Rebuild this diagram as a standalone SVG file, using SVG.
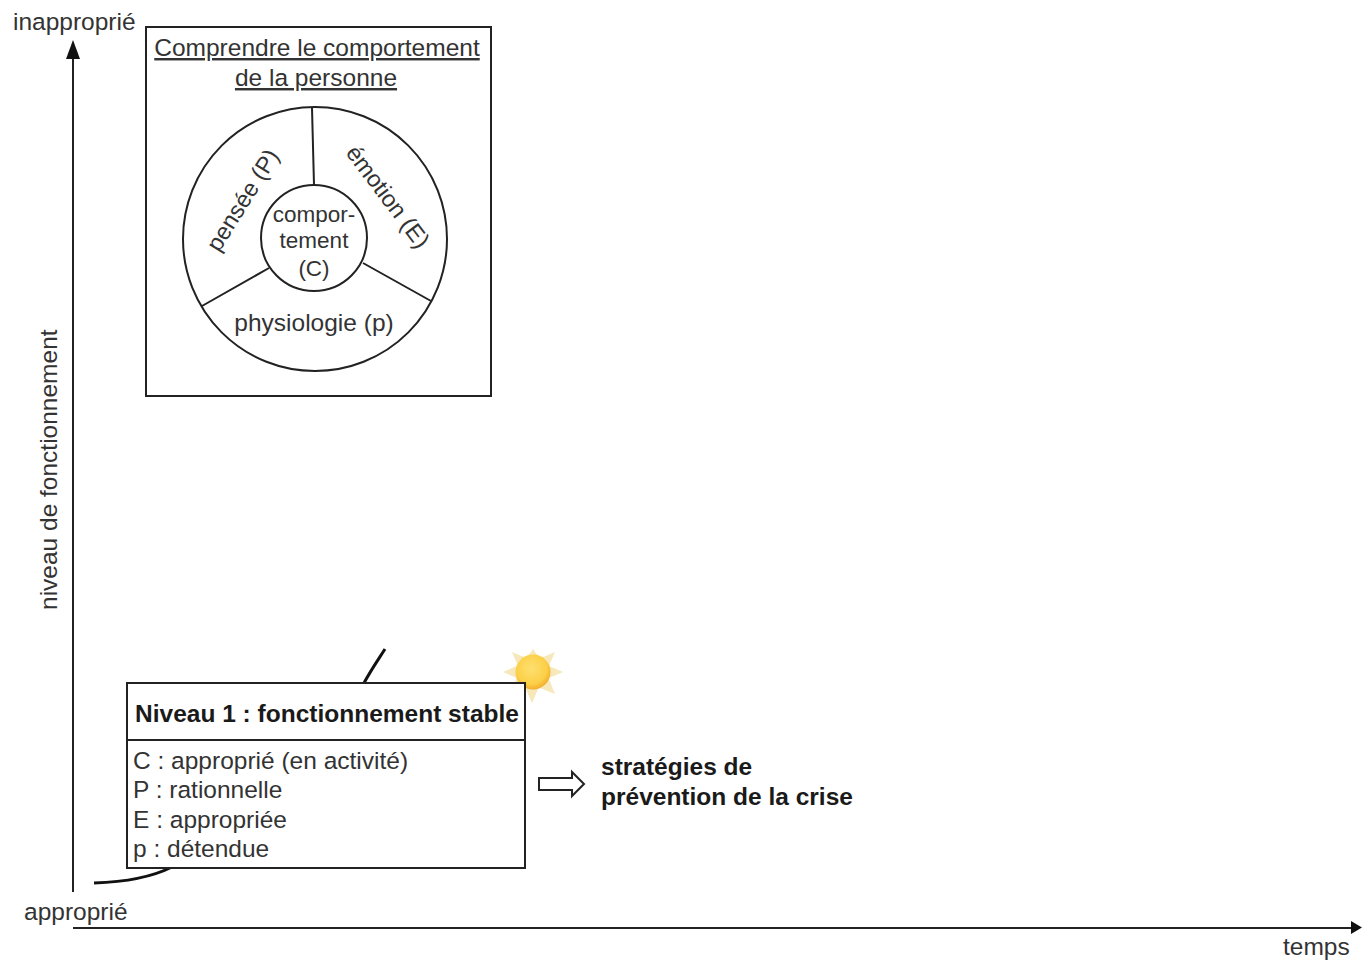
<svg xmlns="http://www.w3.org/2000/svg" width="1362" height="960" viewBox="0 0 1362 960">
<defs>
<radialGradient id="sunFill" cx="0.45" cy="0.4" r="0.62">
<stop offset="0" stop-color="#fde070"/><stop offset="0.7" stop-color="#fcd048"/><stop offset="1" stop-color="#f2ab2a"/>
</radialGradient>
</defs>
<style>
text{font-family:"Liberation Sans",Arial,sans-serif;fill:#333;font-size:24.5px}
.s{fill:none;stroke:#222;stroke-width:2}
.c{fill:none;stroke:#111;stroke-width:3}
.b{font-weight:bold;fill:#1a1a1a}
.m{font-size:22.5px}
.r{font-size:23.5px}
.ray{fill:#f6e8ba}
</style>
<rect width="1362" height="960" fill="#fff"/>
<g id="sun">
<g class="ray">
<path d="M533 649l-7 10h14zM532 703l-7-16h14zM503 672l14-6v12zM563 672l-14-6v12zM512 652l14 6-8 8zM555 652l-14 6 8 8zM555 694l-6-15-9 9zM511 692l6-15 9 9z"/>
</g>
<circle cx="533" cy="672" r="17.500" fill="url(#sunFill)"/>
</g>
<g id="connectors">
<path class="s" d="M73 892V56"/><path d="M73 40l-7 19h14z" fill="#111"/>
<path class="s" d="M73 928H1352"/><path d="M1362 927.500l-11-6.500v13z" fill="#111"/>
<path class="c" d="M94 883C125 882 150 878 172 867M364 683C371 670 378 660 385 649"/>
<path d="M539 778H572V772L584 784 572 796V790H539Z" fill="#fff" stroke="#222" stroke-width="2"/>
</g>
<g id="axis-labels">
<text x="13" y="30">inapproprié</text>
<text x="24" y="920">approprié</text>
<text x="1283" y="955">temps</text>
<text transform="translate(57 610) rotate(-90)">niveau de fonctionnement</text>
</g>
<g id="comprendre">
<rect class="s" x="146" y="27" width="345" height="369"/>
<text x="317" y="56" text-anchor="middle" text-decoration="underline">Comprendre le comportement</text>
<text x="316" y="86" text-anchor="middle" text-decoration="underline">de la personne</text>
<circle class="s" cx="315" cy="239" r="132"/>
<circle class="s" cx="314" cy="238" r="53"/>
<path class="s" d="M312 108L314 185M202 306L269 268M431 301L363 263"/>
<text class="m" text-anchor="middle"><tspan x="314" y="222">compor-</tspan><tspan x="314" y="248">tement</tspan><tspan x="314" y="276">(C)</tspan></text>
<text x="314" y="331" text-anchor="middle">physiologie (p)</text>
<text class="r" transform="translate(219 253) rotate(-58)">pensée (P)</text>
<text class="r" transform="translate(345 153) rotate(53)">émotion (E)</text>
</g>
<g id="niveau1">
<rect class="s" x="127" y="683" width="398" height="185" style="fill:#fff"/>
<path class="s" d="M127 740H525"/>
<text x="135" y="722" class="b">Niveau 1 : fonctionnement stable</text>
<text x="133" y="769">C : approprié (en activité)</text>
<text x="133" y="798">P : rationnelle</text>
<text x="133" y="828">E : appropriée</text>
<text x="133" y="857">p : détendue</text>
</g>
<g id="strategies">
<text x="601" y="775" class="b">stratégies de</text>
<text x="601" y="805" class="b">prévention de la crise</text>
</g>
</svg>
